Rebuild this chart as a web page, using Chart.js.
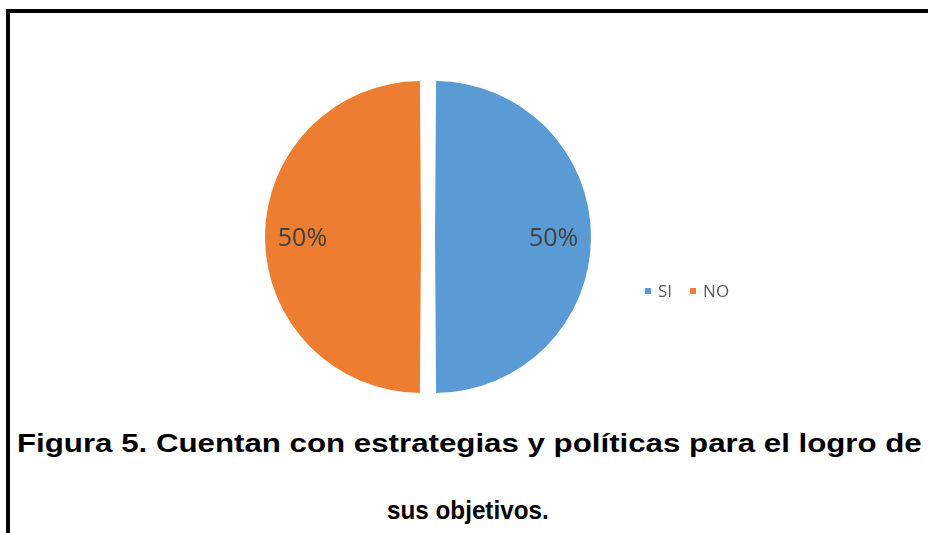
<!DOCTYPE html>
<html>
<head>
<meta charset="utf-8">
<script src="https://cdn.jsdelivr.net/npm/chart.js@4"></script>
<style>
  html, body { margin: 0; padding: 0; background: #fff; }
  #wrap { position: relative; width: 928px; height: 533px; overflow: hidden; }
  #marco { position: absolute; left: 6px; top: 9px; width: 940px; height: 560px;
           border-left: 4px solid #000; border-top: 4px solid #000; box-sizing: border-box; }
  #grafico { position: absolute; left: 0; top: 0; }
  #leyenda { position: absolute; left: 645px; top: 279px; display: flex; align-items: center;
             font-family: "Open Sans", sans-serif; font-size: 17px; color: #595959; }
  #leyenda span.cuadro { display: inline-block; width: 6px; height: 6px; margin-right: 7px; }
  #leyenda .item { display: flex; align-items: center; margin-right: 18px; }
  .titulo { position: absolute; font-family: "Liberation Sans", Arial, sans-serif;
            font-weight: bold; font-size: 25px; color: #000; white-space: nowrap; transform-origin: 0 0; }
  #linea1 { left: 17px; top: 429px; }
  #linea2 { top: 496px; }
</style>
</head>
<body>
<div id="wrap">
  <div id="marco"></div>
  <canvas id="grafico" width="928" height="420"></canvas>
  <div id="leyenda"></div>
  <div class="titulo" id="linea1">Figura 5. Cuentan con estrategias y políticas para el logro de</div>
  <div class="titulo" id="linea2">sus objetivos.</div>
</div>
<script>
const categorias = ["SI", "NO"];
const valores = [50, 50];
const colores = ["#5B9BD5", "#ED7D31"];

// etiquetas de porcentaje dentro de cada sector
const etiquetasPct = {
  id: "etiquetasPct",
  afterDatasetsDraw(chart) {
    const ctx = chart.ctx;
    const meta = chart.getDatasetMeta(0);
    const total = valores.reduce((a, b) => a + b, 0);
    ctx.save();
    ctx.font = "25px 'Open Sans', sans-serif";
    ctx.fillStyle = "#404040";
    ctx.textAlign = "center";
    ctx.textBaseline = "middle";
    meta.data.forEach((arc, i) => {
      const p = arc.getProps(["x", "y", "startAngle", "endAngle", "outerRadius"], true);
      const medio = (p.startAngle + p.endAngle) / 2;
      // el sector separado se desplaza offset/4 y su radio crece lo mismo
      const desp = (arc.options.offset || 0) / 4;
      const dist = desp + (p.outerRadius + desp) * 0.76;
      const pct = Math.round(valores[i] * 100 / total) + "%";
      ctx.fillText(pct, p.x + Math.cos(medio) * dist, p.y + Math.sin(medio) * dist + 2);
    });
    ctx.restore();
  }
};

new Chart(document.getElementById("grafico"), {
  type: "pie",
  data: {
    labels: categorias,
    datasets: [{
      data: valores,
      backgroundColor: colores,
      borderWidth: 0,
      offset: 28
    }]
  },
  options: {
    responsive: false,
    animation: false,
    radius: 149,
    layout: { padding: { left: 255, right: 327, top: 64, bottom: 10 } },
    plugins: {
      legend: { display: false },
      tooltip: { enabled: false }
    }
  },
  plugins: [etiquetasPct]
});

// leyenda a la derecha, en una sola fila
const leyenda = document.getElementById("leyenda");
categorias.forEach((c, i) => {
  const item = document.createElement("div");
  item.className = "item";
  item.innerHTML = '<span class="cuadro" style="background:' + colores[i] + '"></span>' + c;
  leyenda.appendChild(item);
});

// ancho de cada línea del pie de figura
const linea1 = document.getElementById("linea1");
linea1.style.transform = "scaleX(" + (905 / linea1.offsetWidth).toFixed(3) + ")";
const linea2 = document.getElementById("linea2");
const ancho2 = 162;
linea2.style.left = (468 - ancho2 / 2) + "px";
linea2.style.transform = "scaleX(" + (ancho2 / linea2.offsetWidth).toFixed(3) + ")";
</script>
</body>
</html>
